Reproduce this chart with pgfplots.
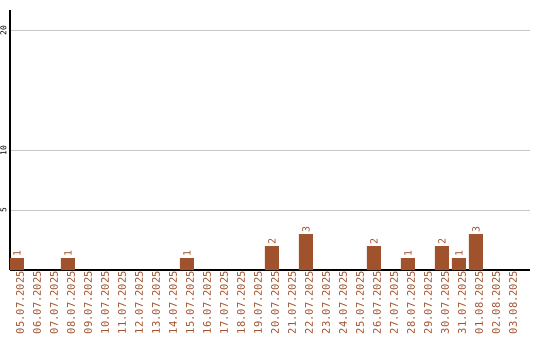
\documentclass[border=0pt]{standalone}
\usepackage{pgfplots}
\pgfplotsset{compat=1.18}
\usepackage{fontspec}
\setmainfont{DejaVu Sans Mono}
\definecolor{barbrown}{HTML}{A0522D}
\definecolor{gridgray}{HTML}{C8C8C8}
\begin{document}
\begin{tikzpicture}
\useasboundingbox (-10bp,-70bp) rectangle (530bp,270bp);
\begin{axis}[
  at={(0,0)}, anchor=south west,
  scale only axis, width=520bp, height=260bp,
  xmin=-0.41, xmax=30.18, ymin=0, ymax=21.67,
  axis x line*=bottom, axis y line*=left,
  axis line style={black, line width=1.1pt, -},
  ytick={5,10,20},
  ymajorgrids, grid style={gridgray, line width=0.8pt},
  major tick length=0pt,
  /pgf/number format/assume math mode=true,
  y tick label style={rotate=90, anchor=south, font=\fontsize{8}{8}\selectfont, xshift=-0.5bp},
  xtick={0,...,29},
  xticklabels={05.07.2025,06.07.2025,07.07.2025,08.07.2025,09.07.2025,10.07.2025,11.07.2025,12.07.2025,13.07.2025,14.07.2025,15.07.2025,16.07.2025,17.07.2025,18.07.2025,19.07.2025,20.07.2025,21.07.2025,22.07.2025,23.07.2025,24.07.2025,25.07.2025,26.07.2025,27.07.2025,28.07.2025,29.07.2025,30.07.2025,31.07.2025,01.08.2025,02.08.2025,03.08.2025},
  x tick label style={rotate=90, anchor=east, text=barbrown, font=\fontsize{10.5}{10.5}\selectfont, inner sep=1bp, yshift=-3bp},
  ybar, bar width=14bp, bar shift=0pt,
  nodes near coords,
  every node near coord/.append style={rotate=90, anchor=west, text=barbrown, font=\fontsize{10}{10}\selectfont, inner sep=1bp},
]
\addplot[fill=barbrown, draw=none] coordinates {
  (0,1) (3,1) (10,1) (15,2) (17,3) (21,2) (23,1) (25,2) (26,1) (27,3)
};
\end{axis}
\end{tikzpicture}
\end{document}
